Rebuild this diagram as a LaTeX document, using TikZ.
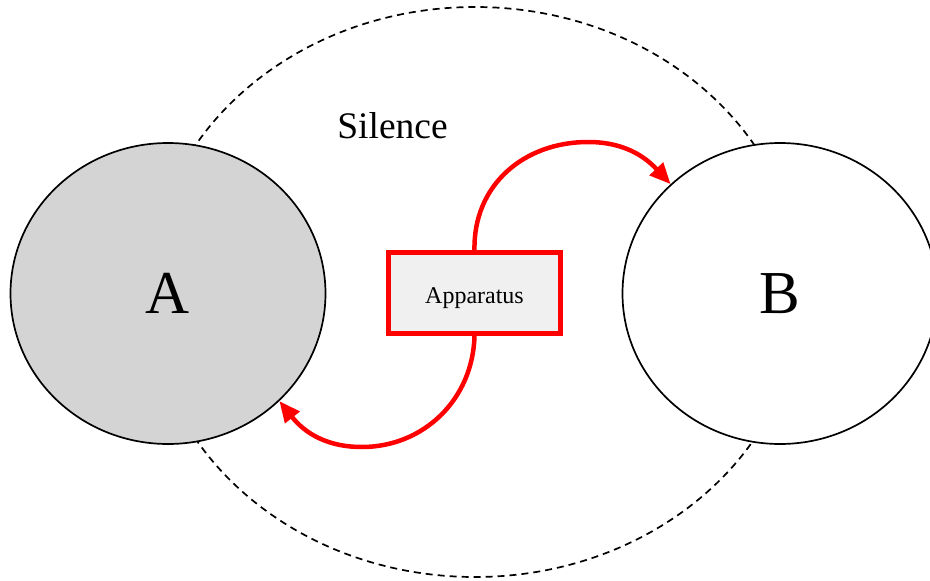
\documentclass[tikz,border=0pt]{standalone}
\usepackage{fontspec}
\setmainfont{Liberation Serif}
\usetikzlibrary{shapes.geometric,arrows.meta}
\definecolor{agray}{HTML}{D4D4D4}
\definecolor{boxgray}{HTML}{F0F0F0}
\begin{document}
\begin{tikzpicture}[x=1pt,y=-1pt,
  zone/.style={ellipse,draw,dash pattern=on 7pt off 5pt,line width=1.7pt,minimum width=652pt,minimum height=570pt,inner sep=0pt},
  party/.style={ellipse,draw,line width=1.7pt,minimum width=315pt,minimum height=301pt,inner sep=0pt,font=\fontsize{61}{70}\selectfont},
  device/.style={rectangle,draw=red,line width=4.2pt,fill=boxgray,minimum width=172pt,minimum height=81pt,inner sep=0pt,font=\fontsize{24}{28}\selectfont,text height=20pt,text depth=0pt},
  flow/.style={draw=red,line width=4.5pt,-{Triangle[length=21pt,width=18pt]}}]
\useasboundingbox (0,0) rectangle (930,581);
\node[zone] (zone) at (475,292) {};
\node[party,fill=agray] (A) at (168,293.5) {A};
\node[party,fill=white] (B) at (780,293.5) {B};
\node[font=\fontsize{37.5}{44}\selectfont,anchor=base] (silence) at (392.5,138) {Silence};
\node[device] (box) at (474.5,293) {Apparatus};
\draw[flow] (box.north) .. controls (473,185) and (524,142) .. (588,142) .. controls (628,142) and (648,160) .. (B.135);
\draw[flow] (box.south) .. controls (473,400) and (423,447) .. (362,447) .. controls (320,447) and (300,427) .. (A.-44);
\end{tikzpicture}
\end{document}
